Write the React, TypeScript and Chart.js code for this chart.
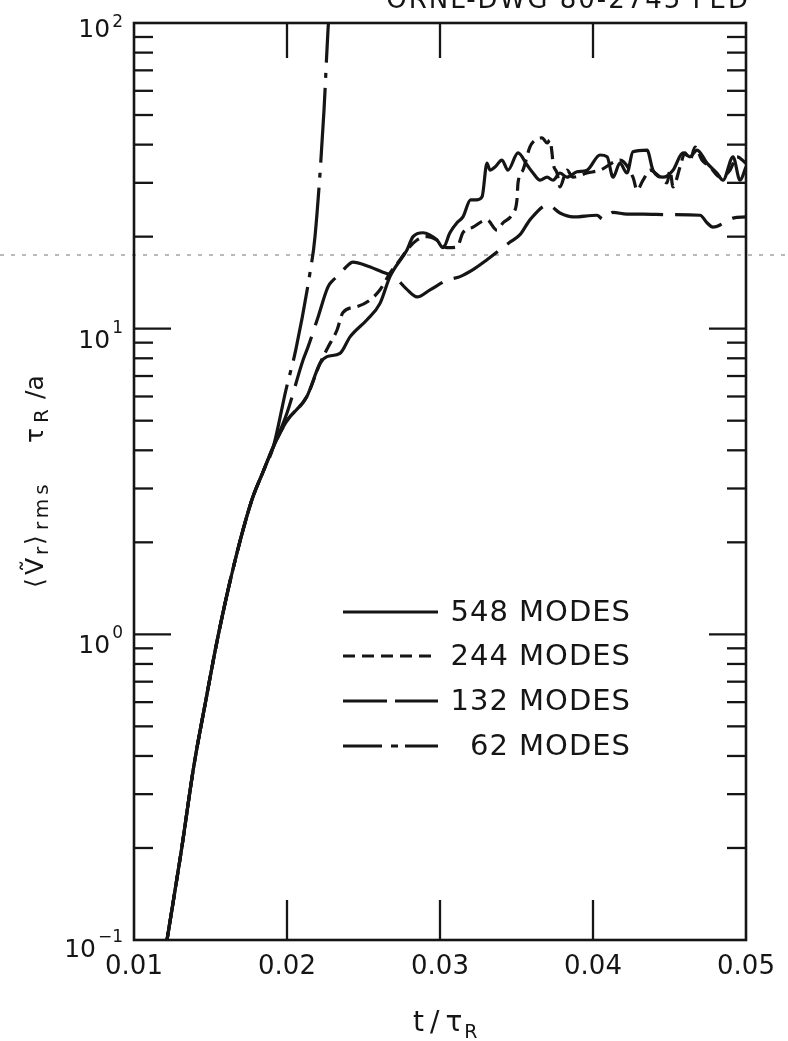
import React, { useEffect, useRef } from 'react';
import { Chart, registerables } from 'chart.js';

Chart.register(...registerables);

const INK = '#151515';
const FONT = '"DejaVu Sans", "Liberation Sans", sans-serif';

// Common early-growth trunk shared by all four runs (t / tau_R, value)
const trunkT = [0.0121, 0.0131, 0.0139, 0.0147, 0.0155, 0.0165, 0.0177, 0.0184, 0.0191];
const trunkV = [0.096, 0.197, 0.368, 0.61, 0.99, 1.66, 2.75, 3.37, 4.1];

// 548 modes (solid)
const t548 = [0.0200, 0.0213, 0.02216, 0.02261, 0.02346, 0.02412, 0.02523, 0.02608, 0.02673, 0.02784, 0.02824, 0.02889, 0.0298, 0.0302, 0.03065, 0.03111, 0.0315, 0.0320, 0.03242, 0.03275, 0.03307, 0.03327, 0.0336, 0.03405, 0.03444, 0.0351, 0.03569, 0.03608, 0.03654, 0.037, 0.03739, 0.03784, 0.0383, 0.03895, 0.03961, 0.04046, 0.04092, 0.04131, 0.04176, 0.04222, 0.04261, 0.04353, 0.04392, 0.04458, 0.04523, 0.04588, 0.04634, 0.0468, 0.04745, 0.0481, 0.0485, 0.04915, 0.04961, 0.0500];
const v548 = [5.0, 6.0, 7.7, 8.1, 8.3, 9.4, 10.7, 12.1, 14.8, 18.1, 20.0, 20.6, 19.5, 18.4, 20.6, 22.2, 23.2, 26.4, 26.4, 27.0, 34.8, 33.0, 33.8, 35.6, 33.0, 37.6, 34.3, 32.3, 30.6, 31.3, 30.6, 32.3, 31.3, 32.6, 33.0, 37.0, 36.5, 31.3, 34.8, 32.3, 37.9, 38.4, 33.0, 31.3, 33.0, 37.6, 36.5, 38.4, 34.8, 32.3, 30.6, 36.5, 30.6, 33.8];

// 244 modes (short dash)
const t244 = [0.0200, 0.0213, 0.02216, 0.02268, 0.02327, 0.02366, 0.02458, 0.02542, 0.02608, 0.02673, 0.02739, 0.02784, 0.0285, 0.02915, 0.0298, 0.03046, 0.03111, 0.0315, 0.03216, 0.03307, 0.03373, 0.03412, 0.03477, 0.03503, 0.0351, 0.03542, 0.03588, 0.03621, 0.03667, 0.037, 0.03719, 0.03732, 0.03739, 0.03765, 0.03784, 0.0383, 0.03869, 0.03961, 0.04046, 0.04176, 0.04261, 0.04288, 0.04327, 0.04373, 0.04438, 0.04484, 0.04503, 0.04523, 0.04569, 0.04601, 0.04634, 0.04667, 0.04712, 0.04765, 0.0483, 0.04895, 0.04941, 0.0500];
const v244 = [5.0, 6.0, 7.7, 8.7, 9.9, 11.3, 11.8, 12.4, 13.4, 15.2, 16.8, 18.1, 19.5, 20.0, 19.5, 18.4, 18.5, 20.6, 21.5, 22.7, 21.0, 22.2, 23.9, 26.4, 30.0, 33.0, 39.3, 41.4, 42.1, 40.5, 41.4, 37.6, 34.8, 32.3, 29.1, 33.0, 31.3, 32.3, 33.0, 35.6, 31.3, 28.4, 30.6, 33.0, 31.3, 30.0, 33.0, 29.1, 33.8, 37.6, 35.6, 39.3, 35.6, 33.8, 31.3, 33.0, 36.5, 34.8];

// 132 modes (long dash)
const t132 = [0.0200, 0.02105, 0.02137, 0.0220, 0.02268, 0.02301, 0.02327, 0.0238, 0.02431, 0.0253, 0.02627, 0.02706, 0.0278, 0.0285, 0.02935, 0.03046, 0.03131, 0.03216, 0.03307, 0.03458, 0.03523, 0.03588, 0.03706, 0.03784, 0.03869, 0.04026, 0.04065, 0.0413, 0.04222, 0.04327, 0.0450, 0.047, 0.04745, 0.04784, 0.04915, 0.0500];
const v132 = [5.3, 7.9, 8.7, 10.8, 13.7, 14.4, 14.8, 15.8, 16.5, 16.0, 15.3, 14.7, 13.5, 12.7, 13.4, 14.4, 14.8, 15.6, 16.8, 19.2, 20.3, 22.7, 25.4, 23.9, 23.2, 23.5, 22.8, 24.0, 23.7, 23.7, 23.6, 23.5, 22.2, 21.5, 23.0, 23.2];

// 62 modes (dash-dot), runs off the top of the frame
const t62 = [0.01993, 0.02059, 0.0215, 0.02183, 0.02242, 0.02268, 0.0229];
const v62 = [6.3, 8.6, 15.2, 20.0, 52, 95, 130];

const seriesLabels = ['548 MODES', '244 MODES', '132 MODES', '62 MODES'];
const xTickValues = [0.01, 0.02, 0.03, 0.04, 0.05];
const yDecades = [-1, 0, 1, 2];

const plotDash: number[][] = [[], [13, 7], [52, 12], [75, 10, 5, 10]];
const legendDash: number[][] = [[], [12, 7], [44, 8], [39, 9, 7, 7, 60, 0]];

function pts(t: number[], v: number[]) {
  return trunkT
    .map((x, i) => ({ x, y: trunkV[i] }))
    .concat(t.map((x, i) => ({ x, y: v[i] })));
}

const decor = {
  id: 'decor',
  afterDraw(chart: any) {
    const { ctx, chartArea: a } = chart;
    const xs = chart.scales.x;
    const ys = chart.scales.y;
    const seg = (x1: number, y1: number, x2: number, y2: number) => {
      ctx.beginPath();
      ctx.moveTo(x1, y1);
      ctx.lineTo(x2, y2);
      ctx.stroke();
    };
    ctx.save();

    // faint scan line across the sheet
    ctx.strokeStyle = 'rgba(0,0,0,0.55)';
    ctx.lineWidth = 1;
    ctx.setLineDash([4, 7]);
    seg(0, 255, chart.width, 255);
    ctx.setLineDash([]);

    // frame
    ctx.strokeStyle = INK;
    ctx.fillStyle = INK;
    ctx.lineWidth = 2.6;
    ctx.strokeRect(a.left, a.top, a.right - a.left, a.bottom - a.top);

    // inward ticks
    ctx.lineWidth = 2.3;
    xTickValues.forEach((v) => {
      const px = xs.getPixelForValue(v);
      if (px < a.left + 3 || px > a.right - 3) return;
      seg(px, a.top, px, a.top + 35);
      seg(px, a.bottom, px, a.bottom - 40);
    });
    for (let e = -1; e <= 1; e++) {
      for (let k = 1; k <= 9; k++) {
        if (e === -1 && k === 1) continue;
        const py = ys.getPixelForValue(k * Math.pow(10, e));
        const L = k === 1 ? 37 : 19;
        seg(a.left, py, a.left + L, py);
        seg(a.right, py, a.right - L, py);
      }
    }

    // y tick labels 10^n
    ctx.textAlign = 'right';
    ctx.textBaseline = 'alphabetic';
    yDecades.forEach((e) => {
      const py = ys.getPixelForValue(Math.pow(10, e));
      const base = e === 2 ? py + 14 : e === -1 ? py + 17 : py + 19;
      const expText = e < 0 ? '\u2212' + Math.abs(e) : String(e);
      ctx.font = `17px ${FONT}`;
      const ew = ctx.measureText(expText).width;
      ctx.fillText(expText, 123, base - (e === 2 ? 10 : 15));
      ctx.font = `25px ${FONT}`;
      ctx.fillText('10', 123 - ew - 2, base);
    });

    // legend
    const rows = [612, 656, 701, 746];
    chart.data.datasets.forEach((ds: any, i: number) => {
      const y = rows[i];
      ctx.lineWidth = 3;
      ctx.setLineDash(legendDash[i]);
      seg(343, y, 438, y);
      ctx.setLineDash([]);
      ctx.font = `29px ${FONT}`;
      (ctx as any).letterSpacing = '1px';
      ctx.textAlign = 'right';
      ctx.textBaseline = 'middle';
      ctx.fillText(ds.label, 631, y + 1);
      (ctx as any).letterSpacing = '0px';
    });

    // x axis title  t/τ_R
    ctx.textAlign = 'left';
    ctx.textBaseline = 'alphabetic';
    ctx.font = `28px ${FONT}`;
    (ctx as any).letterSpacing = '6px';
    ctx.fillText('t/\u03C4', 413, 1031);
    const tw = ctx.measureText('t/\u03C4').width;
    (ctx as any).letterSpacing = '0px';
    ctx.font = `19px ${FONT}`;
    ctx.fillText('R', 413 + tw - 4, 1038);

    // y axis title  <Ṽ_r>_rms  τ_R /a  (rotated)
    ctx.save();
    ctx.translate(43, 588);
    ctx.rotate(-Math.PI / 2);
    ctx.textAlign = 'left';
    ctx.textBaseline = 'alphabetic';
    const main = `25px ${FONT}`;
    const sub = `20px ${FONT}`;
    ctx.font = main;
    ctx.fillText('\u27E8', 0, 0);
    ctx.fillText('\u1E7C', 13, 0);
    ctx.font = sub;
    ctx.fillText('r', 33, 5);
    ctx.font = main;
    ctx.fillText('\u27E9', 43, 0);
    ctx.font = sub;
    (ctx as any).letterSpacing = '4px';
    ctx.fillText('rms', 58, 5);
    (ctx as any).letterSpacing = '0px';
    ctx.font = main;
    ctx.fillText('\u03C4', 145, 0);
    ctx.font = sub;
    ctx.fillText('R', 165, 5);
    ctx.font = main;
    ctx.fillText('/a', 189, 0);
    ctx.restore();

    // drawing number, cut at the top edge
    ctx.font = `26px ${FONT}`;
    (ctx as any).letterSpacing = '2px';
    ctx.textAlign = 'right';
    ctx.textBaseline = 'alphabetic';
    ctx.fillText('ORNL-DWG 80-2745 FED', 750, 8);
    (ctx as any).letterSpacing = '0px';

    ctx.restore();
  },
};

export default function App() {
  const ref = useRef<HTMLCanvasElement>(null);

  useEffect(() => {
    const canvas = ref.current;
    if (!canvas) return;
    Chart.defaults.font.family = FONT;
    Chart.defaults.color = INK;
    const sets = [
      pts(t548, v548),
      pts(t244, v244),
      pts(t132, v132),
      pts(t62, v62),
    ];
    const chart = new Chart(canvas, {
      type: 'line',
      data: {
        datasets: sets.map((data, i) => ({
          label: seriesLabels[i],
          data,
          borderColor: INK,
          borderWidth: 3.2,
          borderDash: plotDash[i],
          borderJoinStyle: 'round',
          pointRadius: 0,
          fill: false,
          cubicInterpolationMode: 'monotone',
        })),
      },
      options: {
        responsive: false,
        animation: false,
        devicePixelRatio: 1,
        layout: { padding: { top: 23, right: 42, left: 0, bottom: 0 } },
        plugins: {
          legend: { display: false },
          tooltip: { enabled: false },
          title: { display: false },
        },
        scales: {
          x: {
            type: 'linear',
            min: 0.01,
            max: 0.05,
            grid: { display: false, drawTicks: false },
            border: { display: false },
            ticks: {
              stepSize: 0.01,
              padding: 12,
              color: INK,
              autoSkip: false,
              maxRotation: 0,
              font: { family: FONT, size: 26 },
              callback: (v: any) => Number(v).toFixed(2),
            },
            afterFit: (s: any) => {
              s.height = 101;
            },
          },
          y: {
            type: 'logarithmic',
            min: 0.1,
            max: 100,
            grid: { display: false, drawTicks: false },
            border: { display: false },
            ticks: { display: false },
            afterFit: (s: any) => {
              s.width = 134;
            },
          },
        },
      } as any,
      plugins: [decor],
    });
    return () => chart.destroy();
  }, []);

  return (
    <div style={{ position: 'fixed', left: 0, top: 0, width: 788, height: 1041, background: '#fff' }}>
      <canvas ref={ref} width={788} height={1041} style={{ display: 'block' }} />
    </div>
  );
}
